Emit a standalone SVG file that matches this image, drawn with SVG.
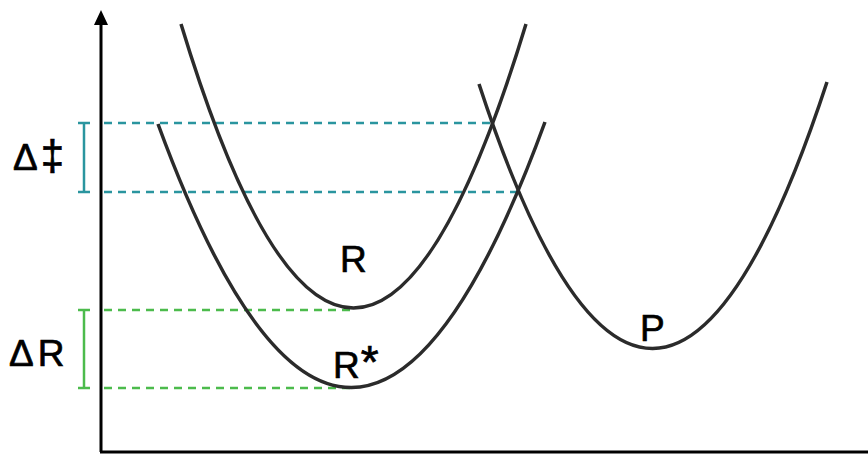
<svg xmlns="http://www.w3.org/2000/svg" width="868" height="454" viewBox="0 0 868 454">
  <defs>
    <style>
      .curve { fill: none; stroke: #2b2b2b; stroke-width: 3.5; stroke-linecap: butt; }
      .axis { fill: none; stroke: #000; stroke-width: 3; }
      .cyan { stroke: #2a959f; stroke-width: 2.5; fill: none; }
      .green { stroke: #4cbb4c; stroke-width: 2.5; fill: none; }
      .dash { stroke-dasharray: 8 6; }
      .lbl { font-family: "Liberation Sans", Arial, sans-serif; font-size: 37px; fill: #000; stroke: #000; stroke-width: 0.7; }
    </style>
  </defs>
  <rect width="868" height="454" fill="#ffffff"/>
  <g id="axes">
    <line class="axis" x1="101" y1="22" x2="101" y2="452"/>
    <line class="axis" x1="100" y1="452" x2="868" y2="452"/>
    <polygon points="101,10 94,25 108,25" fill="#000"/>
  </g>
  <g id="connectors">
    <line class="cyan dash" x1="104" y1="123" x2="493" y2="123"/>
    <line class="cyan dash" x1="104" y1="192" x2="518" y2="192"/>
    <line class="green dash" x1="104" y1="310" x2="354" y2="310"/>
    <line class="green dash" x1="104" y1="388" x2="350" y2="388"/>
  </g>
  <g id="delta-ts">
    <line class="cyan" x1="84" y1="123" x2="84" y2="192"/>
    <line class="cyan" x1="78" y1="123" x2="90" y2="123"/>
    <line class="cyan" x1="78" y1="192" x2="90" y2="192"/>
    <text class="lbl" x="13" y="170" letter-spacing="3">Δ<tspan font-size="42">‡</tspan></text>
  </g>
  <g id="delta-r">
    <line class="green" x1="84" y1="310" x2="84" y2="388"/>
    <line class="green" x1="78" y1="310" x2="90" y2="310"/>
    <line class="green" x1="78" y1="388" x2="90" y2="388"/>
    <text class="lbl" x="9" y="366" letter-spacing="4">ΔR</text>
  </g>
  <g id="curve-R">
    <path class="curve" d="M181,24 Q353.5,592 526,24"/>
    <text class="lbl" x="340" y="272">R</text>
  </g>
  <g id="curve-Rstar">
    <path class="curve" d="M158,124 Q351.5,652 545,122"/>
    <text class="lbl" x="333" y="378">R<tspan font-size="46" dx="1">*</tspan></text>
  </g>
  <g id="curve-P">
    <path class="curve" d="M479,84 Q652.5,614 827,82"/>
    <text class="lbl" x="640" y="341">P</text>
  </g>
</svg>
